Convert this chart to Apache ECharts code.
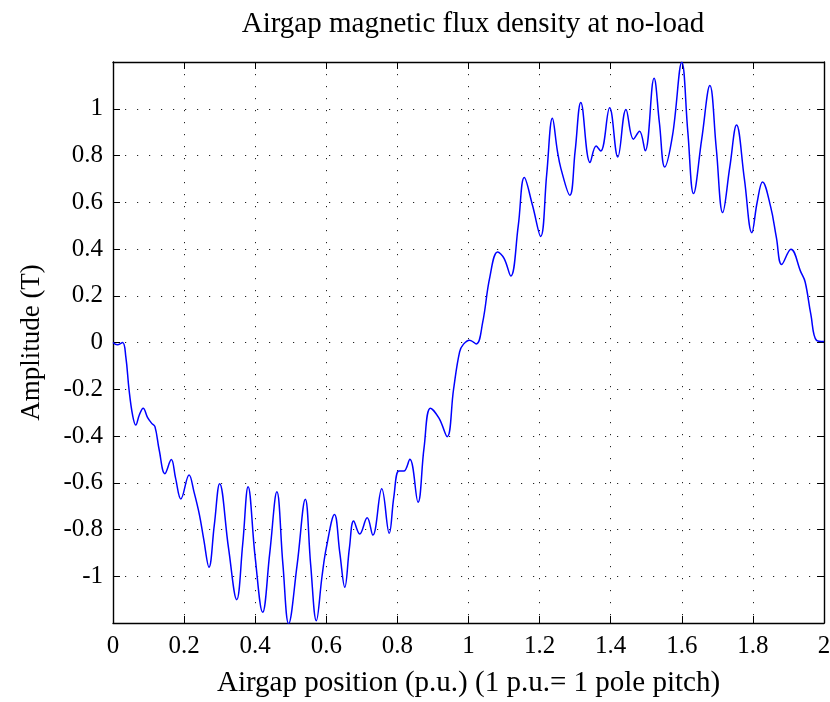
<!DOCTYPE html>
<html>
<head>
<meta charset="utf-8">
<script src="https://cdn.jsdelivr.net/npm/echarts@6/dist/echarts.min.js"></script>
<style>html,body{margin:0;padding:0;background:#fff}#c{width:830px;height:702px}</style>
</head>
<body>
<div id="c"></div>
<script>
const title = 'Airgap magnetic flux density at no-load';
const xLabel = 'Airgap position (p.u.) (1 p.u.= 1 pole pitch)';
const yLabel = 'Amplitude (T)';
const xTicks = [0, 0.2, 0.4, 0.6, 0.8, 1, 1.2, 1.4, 1.6, 1.8, 2];
const yTicks = [-1, -0.8, -0.6, -0.4, -0.2, 0, 0.2, 0.4, 0.6, 0.8, 1];
const position = [
  0, 0.012, 0.027, 0.036, 0.045, 0.055, 0.064, 0.074, 0.085, 0.097,
  0.109, 0.118, 0.13, 0.146, 0.164, 0.176, 0.191, 0.214, 0.228, 0.243,
  0.255, 0.270, 0.285, 0.300, 0.325, 0.348, 0.365, 0.380, 0.400, 0.421,
  0.441, 0.461, 0.478, 0.494, 0.518, 0.541, 0.556, 0.572, 0.588, 0.600,
  0.623, 0.638, 0.652, 0.665, 0.677, 0.694, 0.715, 0.731, 0.756, 0.777,
  0.790, 0.804, 0.818, 0.835, 0.858, 0.875, 0.893, 0.917, 0.940, 0.958,
  0.975, 0.986, 1.003, 1.022, 1.040, 1.060, 1.082, 1.100, 1.119, 1.140,
  1.157, 1.180, 1.203, 1.220, 1.236, 1.250, 1.260, 1.285, 1.300, 1.316,
  1.342, 1.359, 1.372, 1.397, 1.420, 1.443, 1.464, 1.481, 1.497, 1.522,
  1.537, 1.552, 1.574, 1.600, 1.617, 1.633, 1.656, 1.679, 1.697, 1.715,
  1.735, 1.754, 1.776, 1.797, 1.812, 1.827, 1.850, 1.866, 1.881, 1.907,
  1.935, 1.947, 1.963, 1.979, 2.0
];
const amplitude = [
  0, -0.01, 0.0, -0.06, -0.2, -0.31, -0.353, -0.31, -0.281, -0.32,
  -0.346, -0.36, -0.46, -0.561, -0.501, -0.58, -0.669, -0.567, -0.64, -0.736,
  -0.84, -0.961, -0.78, -0.604, -0.88, -1.1, -0.86, -0.617, -0.92, -1.154,
  -0.9, -0.639, -0.95, -1.203, -0.95, -0.671, -0.95, -1.19, -1.0, -0.879,
  -0.736, -0.9, -1.047, -0.88, -0.764, -0.819, -0.75, -0.824, -0.626, -0.816,
  -0.66, -0.55, -0.55, -0.499, -0.683, -0.45, -0.281, -0.324, -0.403, -0.2,
  -0.04, -0.007, 0.01, -0.006, 0.087, 0.28, 0.387, 0.36, 0.284, 0.5,
  0.706, 0.587, 0.454, 0.72, 0.959, 0.82, 0.744, 0.63, 0.82, 1.027,
  0.77, 0.841, 0.819, 1.004, 0.794, 0.997, 0.87, 0.904, 0.82, 1.13,
  0.94, 0.751, 0.887, 1.199, 0.9, 0.637, 0.87, 1.099, 0.83, 0.556,
  0.75, 0.93, 0.7, 0.47, 0.6, 0.687, 0.58, 0.45, 0.334, 0.399,
  0.301, 0.259, 0.12, 0.009, 0.004
];
const data = position.map((x, i) => [x, amplitude[i]]);
const FONT = 'Liberation Serif';
const fmt = v => {
  const r = Math.round(v * 10) / 10;
  if (Math.abs(r) > 1.05) return '';
  return String(r);
};
const grid = { left: 113, right: 6, top: 62, bottom: 79, containLabel: false, outerBoundsMode: 'none' };
const dotted = { color: '#222', width: 1, type: [1.2, 10.8] };
const chart = echarts.init(document.getElementById('c'), null, { renderer: 'canvas' });
chart.setOption({
  animation: false,
  backgroundColor: '#fff',
  title: {
    text: title, left: 468, top: 5, textAlign: 'center',
    textStyle: { fontFamily: FONT, fontSize: 29, fontWeight: 'normal', color: '#000' }
  },
  grid: grid,
  xAxis: [{
    type: 'value', min: 0, max: 2, interval: 0.2, position: 'bottom',
    name: xLabel, nameLocation: 'middle', nameGap: 46,
    nameTextStyle: { fontFamily: FONT, fontSize: 29, color: '#000' },
    axisLine: { show: true, onZero: false, lineStyle: { color: '#000', width: 1.4 } },
    axisTick: { show: true, inside: true, length: 7, lineStyle: { color: '#000' } },
    axisLabel: { fontFamily: FONT, fontSize: 25, color: '#000', margin: 11,
      formatter: v => String(Math.round(v * 10) / 10) },
    splitLine: { show: true, lineStyle: dotted }
  }, {
    type: 'value', min: 0, max: 2, interval: 0.2, position: 'top',
    axisLine: { show: true, onZero: false, lineStyle: { color: '#000', width: 1.4 } },
    axisTick: { show: true, inside: true, length: 7, lineStyle: { color: '#000' } },
    axisLabel: { show: false }, splitLine: { show: false }
  }],
  yAxis: [{
    type: 'value', min: -1.2, max: 1.2, interval: 0.2, position: 'left',
    name: yLabel, nameLocation: 'middle', nameGap: 68, nameRotate: 90,
    nameTextStyle: { fontFamily: FONT, fontSize: 27, color: '#000' },
    axisLine: { show: true, onZero: false, lineStyle: { color: '#000', width: 1.4 } },
    axisTick: { show: true, inside: true, length: 7, lineStyle: { color: '#000' } },
    axisLabel: { fontFamily: FONT, fontSize: 25, color: '#000', margin: 10, formatter: fmt },
    splitLine: { show: true, lineStyle: dotted }
  }, {
    type: 'value', min: -1.2, max: 1.2, interval: 0.2, position: 'right',
    axisLine: { show: true, onZero: false, lineStyle: { color: '#000', width: 1.4 } },
    axisTick: { show: true, inside: true, length: 7, lineStyle: { color: '#000' } },
    axisLabel: { show: false }, splitLine: { show: false }
  }],
  series: [{
    type: 'line', xAxisIndex: 0, yAxisIndex: 0, data: data,
    smooth: 0.4, showSymbol: false, symbol: 'none',
    lineStyle: { color: '#0000ff', width: 1.5 }
  }]
});
</script>
</body>
</html>
